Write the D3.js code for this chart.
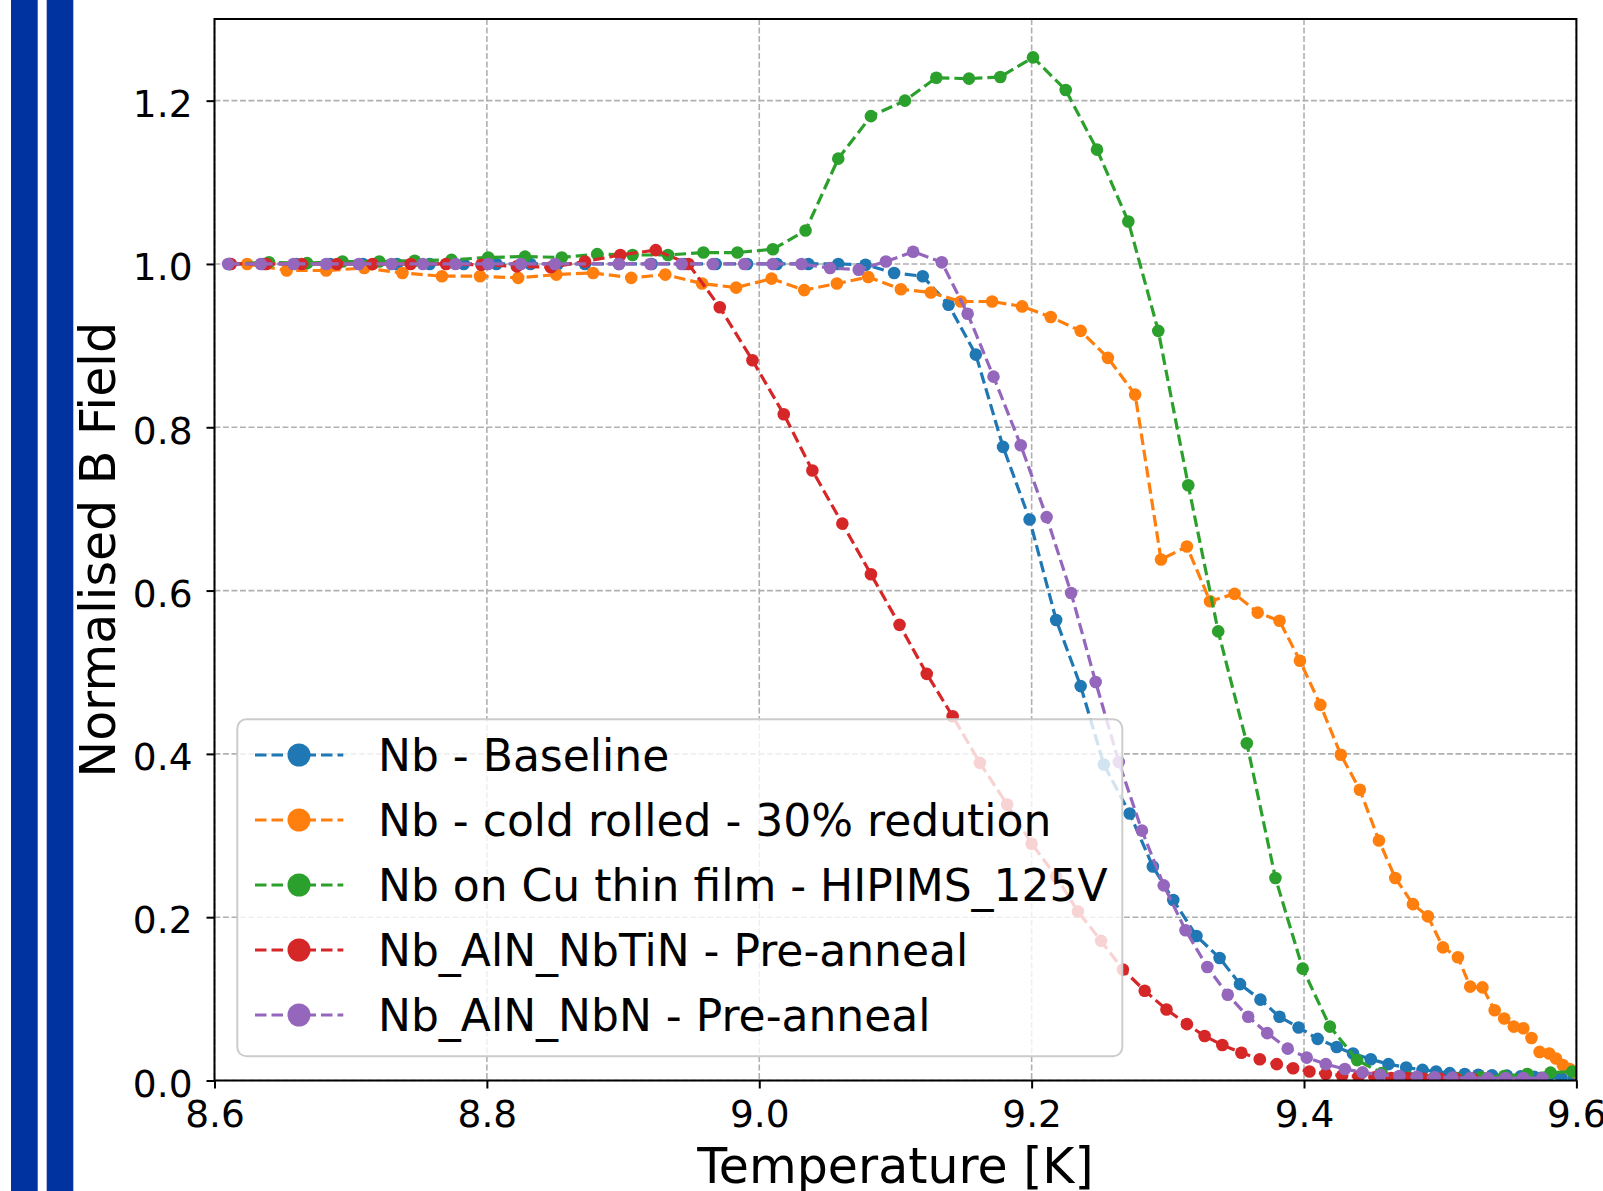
<!DOCTYPE html>
<html>
<head>
<meta charset="utf-8">
<script src="https://cdn.jsdelivr.net/npm/d3@7"></script>
<style>
  html, body { margin: 0; padding: 0; background: #ffffff; }
  svg { display: block; }
  text { font-family: "DejaVu Sans", sans-serif; fill: #000; }
</style>
</head>
<body>
<svg id="chart" width="1603" height="1191"></svg>
<script>
// ---------------- DATA ----------------
const xTicks = [8.6, 8.8, 9.0, 9.2, 9.4, 9.6];
const yTicks = [0.0, 0.2, 0.4, 0.6, 0.8, 1.0, 1.2];
const xLabel = "Temperature [K]";
const yLabel = "Normalised B Field";
const seriesNames = [
  "Nb - Baseline",
  "Nb - cold rolled - 30% redution",
  "Nb on Cu thin film - HIPIMS_125V",
  "Nb_AlN_NbTiN - Pre-anneal",
  "Nb_AlN_NbN - Pre-anneal"
];
const seriesColors = ["#1f77b4", "#ff7f0e", "#2ca02c", "#d62728", "#9467bd"];

// [temperature K, normalised B]
const baseline = [
  [8.611,1.0],[8.636,1.0],[8.660,1.0],[8.685,1.0],[8.709,1.0],[8.734,1.0],[8.758,1.0],[8.783,1.0],
  [8.807,1.0],[8.832,1.0],[8.852,1.0],[8.872,1.0],[8.897,1.0],[8.921,1.0],[8.945,1.0],[8.968,1.0],
  [8.991,1.0],[9.013,1.0],[9.036,1.0],[9.058,1.0],[9.078,0.999],[9.099,0.989],[9.120,0.985],
  [9.139,0.950],[9.159,0.889],[9.179,0.776],[9.1985,0.687],[9.218,0.564],[9.236,0.483],[9.253,0.387],
  [9.272,0.327],[9.289,0.262],[9.304,0.221],[9.321,0.177],[9.338,0.150],[9.353,0.118],[9.368,0.099],
  [9.382,0.078],[9.396,0.065],[9.410,0.051],[9.424,0.041],[9.436,0.033],[9.449,0.026],[9.462,0.020],
  [9.475,0.016],[9.487,0.013],[9.497,0.011],[9.507,0.009],[9.518,0.008],[9.528,0.007],[9.538,0.0064],
  [9.549,0.006],[9.559,0.005],[9.569,0.0045],[9.579,0.004],[9.589,0.0035],[9.598,0.003]
];
const coldRolled = [
  [8.624,1.0],[8.653,0.992],[8.682,0.992],[8.710,0.995],[8.738,0.989],[8.767,0.985],[8.795,0.985],
  [8.823,0.983],[8.851,0.987],[8.878,0.989],[8.906,0.983],[8.931,0.987],[8.958,0.976],[8.983,0.971],
  [9.009,0.982],[9.033,0.968],[9.057,0.976],[9.080,0.984],[9.104,0.969],[9.126,0.965],[9.148,0.954],
  [9.171,0.954],[9.193,0.948],[9.214,0.935],[9.236,0.918],[9.256,0.885],[9.276,0.840],[9.295,0.638],
  [9.314,0.654],[9.331,0.587],[9.349,0.596],[9.366,0.573],[9.382,0.563],[9.397,0.514],[9.412,0.460],
  [9.427,0.399],[9.441,0.356],[9.455,0.294],[9.467,0.248],[9.480,0.216],[9.491,0.201],[9.502,0.163],
  [9.513,0.151],[9.522,0.115],[9.531,0.114],[9.540,0.086],[9.547,0.076],[9.554,0.066],[9.561,0.064],
  [9.567,0.052],[9.573,0.035],[9.580,0.033],[9.585,0.027],[9.590,0.019],[9.595,0.014],[9.599,0.010]
];
const thinFilm = [
  [8.611,1.0],[8.640,1.002],[8.668,1.001],[8.694,1.003],[8.721,1.003],[8.747,1.004],[8.774,1.005],
  [8.801,1.008],[8.828,1.009],[8.855,1.008],[8.881,1.012],[8.907,1.011],[8.933,1.011],[8.959,1.014],
  [8.984,1.014],[9.010,1.018],[9.034,1.041],[9.058,1.129],[9.082,1.181],[9.107,1.200],[9.130,1.228],
  [9.154,1.227],[9.177,1.229],[9.201,1.253],[9.225,1.213],[9.248,1.140],[9.271,1.052],[9.293,0.918],
  [9.315,0.729],[9.337,0.550],[9.358,0.413],[9.379,0.248],[9.399,0.137],[9.419,0.066],[9.439,0.025],
  [9.457,0.009],[9.477,0.004],[9.495,0.003],[9.512,0.003],[9.530,0.004],[9.547,0.0055],[9.564,0.008],
  [9.581,0.0096],[9.597,0.011]
];
const nbTiN = [
  [8.612,1.0],[8.638,1.0],[8.664,1.0],[8.690,1.0],[8.716,1.0],[8.744,1.0],[8.770,1.0],[8.796,0.999],
  [8.822,0.997],[8.847,0.996],[8.872,1.003],[8.898,1.011],[8.924,1.017],[8.948,1.000],[8.971,0.947],
  [8.995,0.882],[9.018,0.816],[9.039,0.747],[9.061,0.682],[9.082,0.620],[9.103,0.558],[9.123,0.498],
  [9.142,0.446],[9.162,0.389],[9.182,0.338],[9.200,0.290],[9.218,0.250],[9.234,0.207],[9.251,0.171],
  [9.267,0.136],[9.283,0.110],[9.299,0.087],[9.314,0.069],[9.327,0.0545],[9.340,0.0435],[9.354,0.034],
  [9.3675,0.026],[9.380,0.020],[9.392,0.015],[9.404,0.011],[9.416,0.008],[9.428,0.006],[9.440,0.005],
  [9.452,0.004],[9.464,0.003],[9.476,0.003],[9.488,0.002],[9.500,0.002],[9.512,0.002],[9.524,0.002]
];
const nbN = [
  [8.610,1.0],[8.634,1.0],[8.658,1.0],[8.682,1.0],[8.706,1.0],[8.730,1.0],[8.753,1.0],[8.777,1.0],
  [8.801,1.0],[8.825,1.0],[8.850,1.0],[8.897,1.0],[8.920,1.0],[8.943,1.0],[8.966,1.0],[8.989,1.0],
  [9.010,1.0],[9.031,1.0],[9.052,0.995],[9.073,0.993],[9.093,1.003],[9.113,1.015],[9.134,1.002],
  [9.153,0.939],[9.172,0.862],[9.192,0.778],[9.211,0.690],[9.229,0.597],[9.247,0.488],[9.264,0.390],
  [9.281,0.306],[9.297,0.239],[9.313,0.184],[9.329,0.139],[9.344,0.105],[9.359,0.078],[9.373,0.058],
  [9.388,0.039],[9.402,0.028],[9.416,0.020],[9.430,0.014],[9.443,0.010],[9.456,0.007],[9.470,0.0055],
  [9.483,0.0045],[9.496,0.004],[9.509,0.0035],[9.522,0.003],[9.535,0.003],[9.548,0.003],[9.561,0.003],
  [9.575,0.003]
];
const allSeries = [baseline, coldRolled, thinFilm, nbTiN, nbN];

// ---------------- LAYOUT ----------------
const W = 1603, H = 1191;
const plot = { left: 214.5, right: 1576.4, top: 19, bottom: 1080.5 };

const svg = d3.select("#chart");
svg.append("rect").attr("width", W).attr("height", H).attr("fill", "#fff");

// decorative blue bars at left edge
svg.append("rect").attr("x", 11).attr("y", 0).attr("width", 26.7).attr("height", H).attr("fill", "#0033a0");
svg.append("rect").attr("x", 46.7).attr("y", 0).attr("width", 26.6).attr("height", H).attr("fill", "#0033a0");

const x = d3.scaleLinear().domain([8.6, 9.6]).range([plot.left, plot.right]);
const y = d3.scaleLinear().domain([0, 1.3]).range([plot.bottom, plot.top]);

// grid
const grid = svg.append("g");
grid.selectAll("line.gx").data(xTicks).join("line")
  .attr("x1", d => x(d)).attr("x2", d => x(d))
  .attr("y1", plot.top).attr("y2", plot.bottom)
  .attr("stroke", "#b0b0b0").attr("stroke-width", 1.6).attr("stroke-dasharray", "5.9,2.6");
grid.selectAll("line.gy").data(yTicks).join("line")
  .attr("x1", plot.left).attr("x2", plot.right)
  .attr("y1", d => y(d)).attr("y2", d => y(d))
  .attr("stroke", "#b0b0b0").attr("stroke-width", 1.6).attr("stroke-dasharray", "5.9,2.6");

// clip
svg.append("clipPath").attr("id", "clip").append("rect")
  .attr("x", plot.left).attr("y", plot.top)
  .attr("width", plot.right - plot.left).attr("height", plot.bottom - plot.top);

const lineGen = d3.line().x(d => x(d[0])).y(d => y(d[1]));
const dataG = svg.append("g").attr("clip-path", "url(#clip)");
allSeries.forEach((s, i) => {
  const g = dataG.append("g");
  g.append("path").datum(s).attr("d", lineGen)
    .attr("fill", "none").attr("stroke", seriesColors[i])
    .attr("stroke-width", 3.2).attr("stroke-dasharray", "11.5,5");
  g.selectAll("circle").data(s).join("circle")
    .attr("cx", d => x(d[0])).attr("cy", d => y(d[1])).attr("r", 6.3)
    .attr("fill", seriesColors[i]);
});

// axes
const xAxis = d3.axisBottom(x).tickValues(xTicks).tickFormat(d3.format(".1f")).tickSize(8).tickPadding(12);
const yAxis = d3.axisLeft(y).tickValues(yTicks).tickFormat(d3.format(".1f")).tickSize(8).tickPadding(14);

const gx = svg.append("g").attr("transform", `translate(0,${plot.bottom})`).call(xAxis);
const gy = svg.append("g").attr("transform", `translate(${plot.left},0)`).call(yAxis);
[gx, gy].forEach(g => {
  g.select(".domain").remove();
  g.selectAll(".tick line").attr("stroke", "#000").attr("stroke-width", 2);
  g.selectAll(".tick text").attr("font-size", 37.5).attr("font-family", "DejaVu Sans").attr("fill", "#000");
});
gy.selectAll(".tick text").attr("dy", "0.42em");

// frame
svg.append("rect")
  .attr("x", plot.left).attr("y", plot.top)
  .attr("width", plot.right - plot.left).attr("height", plot.bottom - plot.top)
  .attr("fill", "none").attr("stroke", "#000").attr("stroke-width", 2);

// axis labels
svg.append("text").attr("x", (plot.left + plot.right) / 2).attr("y", 1183)
  .attr("text-anchor", "middle").attr("font-size", 49).text(xLabel);
svg.append("text")
  .attr("transform", `translate(115,${(plot.top + plot.bottom) / 2}) rotate(-90)`)
  .attr("text-anchor", "middle").attr("font-size", 49).text(yLabel);

// legend
const leg = svg.append("g");
leg.append("rect").attr("x", 237.3).attr("y", 719.3).attr("width", 885).attr("height", 337)
  .attr("rx", 9).attr("ry", 9)
  .attr("fill", "#fff").attr("fill-opacity", 0.8)
  .attr("stroke", "#cccccc").attr("stroke-width", 2);
seriesNames.forEach((name, i) => {
  const cy = 755 + i * 65;
  leg.append("line").attr("x1", 255).attr("x2", 343.3).attr("y1", cy).attr("y2", cy)
    .attr("stroke", seriesColors[i]).attr("stroke-width", 3.2).attr("stroke-dasharray", "11.5,5");
  leg.append("circle").attr("cx", 299).attr("cy", cy).attr("r", 11.5).attr("fill", seriesColors[i]);
  leg.append("text").attr("x", 378).attr("y", cy + 15.5).attr("font-size", 44).text(name);
});
</script>
</body>
</html>
